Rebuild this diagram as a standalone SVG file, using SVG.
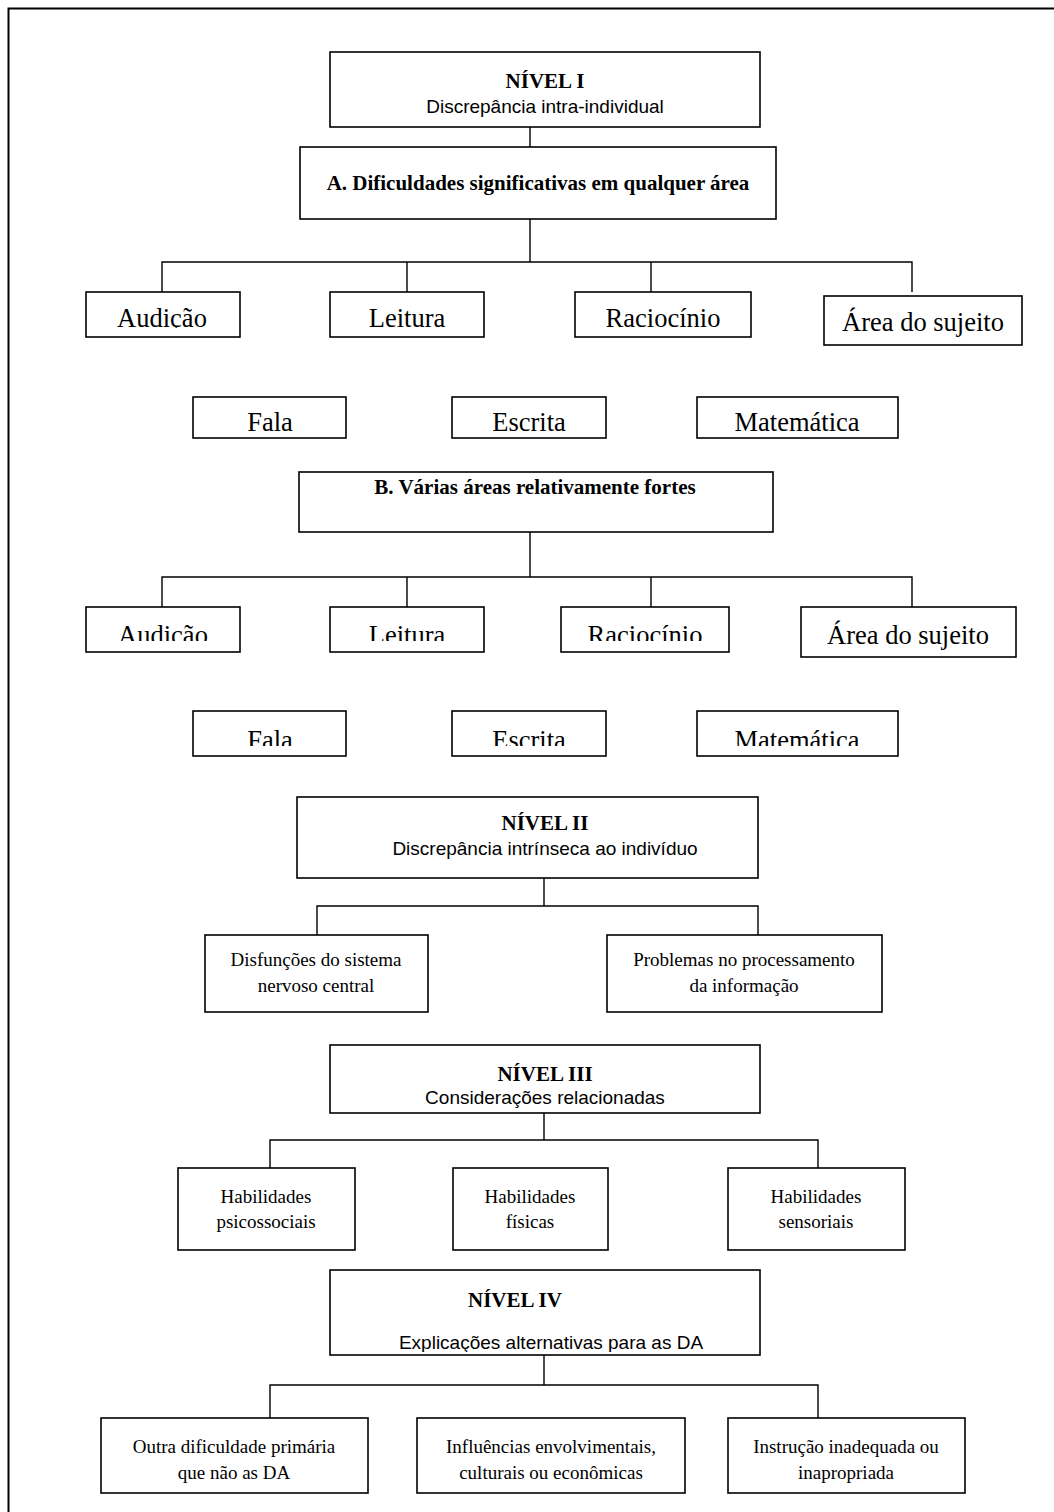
<svg xmlns="http://www.w3.org/2000/svg" width="1054" height="1512" viewBox="0 0 1054 1512">
<defs>
<style>
.b{fill:#fff;stroke:#000;stroke-width:1.6}
.c{fill:none;stroke:#000;stroke-width:1.4}
.h{font-family:"Liberation Serif",serif;font-weight:bold;font-size:21px;text-anchor:middle;fill:#000}
.s{font-family:"Liberation Sans",sans-serif;font-size:19px;text-anchor:middle;fill:#000}
.l{font-family:"Liberation Serif",serif;font-size:26.5px;text-anchor:middle;fill:#000}
.m{font-family:"Liberation Serif",serif;font-size:19px;text-anchor:middle;fill:#000}
</style>
<clipPath id="ca1"><rect x="0" y="280" width="1054" height="48"/></clipPath>
<clipPath id="cb1"><rect x="0" y="560" width="1054" height="81"/></clipPath>
<clipPath id="cb2"><rect x="0" y="700" width="1054" height="46"/></clipPath>
<clipPath id="cn4"><rect x="0" y="1260" width="1054" height="92"/></clipPath>
</defs>
<rect x="0" y="0" width="1054" height="1512" fill="#fff"/>
<rect x="8.5" y="8.5" width="1060" height="1520" fill="none" stroke="#000" stroke-width="2"/>

<g id="connectors">
<path class="c" d="M530 127V147M530 219V262M162 292V262H912V292M407 262V292M651 262V292"/>
<path class="c" d="M530 532V577M162 607V577H912V607M407 577V607M651 577V607"/>
<path class="c" d="M544 878V906M317 935V906H758V935"/>
<path class="c" d="M544 1113V1140M270 1168V1140H818V1168"/>
<path class="c" d="M544 1355V1385M270 1418V1385H818V1418"/>
</g>

<g id="nivel1"><rect class="b" x="330" y="52" width="430" height="75"/>
<text class="h" x="545" y="88">NÍVEL I</text><text class="s" x="545" y="113">Discrepância intra-individual</text></g>
<g id="nodeA"><rect class="b" x="300" y="147" width="476" height="72"/>
<text class="h" x="538" y="190" font-size="22.3">A. Dificuldades significativas em qualquer área</text></g>

<g id="a-audicao"><rect class="b" x="86" y="292" width="154" height="45"/><text class="l" x="162" y="327" clip-path="url(#ca1)">Audição</text></g>
<g id="a-leitura"><rect class="b" x="330" y="292" width="154" height="45"/><text class="l" x="407" y="327">Leitura</text></g>
<g id="a-raciocinio"><rect class="b" x="575" y="292" width="176" height="45"/><text class="l" x="663" y="327">Raciocínio</text></g>
<g id="a-area"><rect class="b" x="824" y="296" width="198" height="49"/><text class="l" x="923" y="331">Área do sujeito</text></g>
<g id="a-fala"><rect class="b" x="193" y="397" width="153" height="41"/><text class="l" x="270" y="431">Fala</text></g>
<g id="a-escrita"><rect class="b" x="452" y="397" width="154" height="41"/><text class="l" x="529" y="431">Escrita</text></g>
<g id="a-matematica"><rect class="b" x="697" y="397" width="201" height="41"/><text class="l" x="797" y="431">Matemática</text></g>

<g id="nodeB"><rect class="b" x="299" y="472" width="474" height="60"/>
<text class="h" x="535" y="494" font-size="20.6">B. Várias áreas relativamente fortes</text></g>

<g id="b-audicao"><rect class="b" x="86" y="607" width="154" height="45"/><text class="l" x="163" y="644" clip-path="url(#cb1)">Audição</text></g>
<g id="b-leitura"><rect class="b" x="330" y="607" width="154" height="45"/><text class="l" x="407" y="644" clip-path="url(#cb1)">Leitura</text></g>
<g id="b-raciocinio"><rect class="b" x="561" y="607" width="168" height="45"/><text class="l" x="645" y="644" clip-path="url(#cb1)">Raciocínio</text></g>
<g id="b-area"><rect class="b" x="801" y="607" width="215" height="50"/><text class="l" x="908" y="644">Área do sujeito</text></g>
<g id="b-fala"><rect class="b" x="193" y="711" width="153" height="45"/><text class="l" x="270" y="749" clip-path="url(#cb2)">Fala</text></g>
<g id="b-escrita"><rect class="b" x="452" y="711" width="154" height="45"/><text class="l" x="529" y="749" clip-path="url(#cb2)">Escrita</text></g>
<g id="b-matematica"><rect class="b" x="697" y="711" width="201" height="45"/><text class="l" x="797" y="749" clip-path="url(#cb2)">Matemática</text></g>

<g id="nivel2"><rect class="b" x="297" y="797" width="461" height="81"/>
<text class="h" x="545" y="830">NÍVEL II</text><text class="s" x="545" y="855">Discrepância intrínseca ao indivíduo</text></g>
<g id="n2-snc"><rect class="b" x="205" y="935" width="223" height="77"/>
<text class="m" x="316" y="966">Disfunções do  sistema</text><text class="m" x="316" y="992">nervoso central</text></g>
<g id="n2-proc"><rect class="b" x="607" y="935" width="275" height="77"/>
<text class="m" x="744" y="966">Problemas no processamento</text><text class="m" x="744" y="992">da informação</text></g>

<g id="nivel3"><rect class="b" x="330" y="1045" width="430" height="68"/>
<text class="h" x="545" y="1081" font-size="26">NÍVEL III</text><text class="s" x="545" y="1104" font-size="17.5">Considerações relacionadas</text></g>
<g id="n3-psico"><rect class="b" x="178" y="1168" width="177" height="82"/>
<text class="m" x="266" y="1203">Habilidades</text><text class="m" x="266" y="1228">psicossociais</text></g>
<g id="n3-fis"><rect class="b" x="453" y="1168" width="155" height="82"/>
<text class="m" x="530" y="1203">Habilidades</text><text class="m" x="530" y="1228">físicas</text></g>
<g id="n3-sens"><rect class="b" x="728" y="1168" width="177" height="82"/>
<text class="m" x="816" y="1203">Habilidades</text><text class="m" x="816" y="1228">sensoriais</text></g>

<g id="nivel4"><rect class="b" x="330" y="1270" width="430" height="85"/>
<text class="h" x="515" y="1307" font-size="18.5">NÍVEL IV</text><text class="s" x="551" y="1349" font-size="20.5" clip-path="url(#cn4)">Explicações alternativas para as DA</text></g>
<g id="n4-outra"><rect class="b" x="101" y="1418" width="267" height="75"/>
<text class="m" x="234" y="1453">Outra dificuldade primária</text><text class="m" x="234" y="1479">que não as  DA</text></g>
<g id="n4-infl"><rect class="b" x="417" y="1418" width="268" height="75"/>
<text class="m" x="551" y="1453">Influências envolvimentais,</text><text class="m" x="551" y="1479">culturais ou econômicas</text></g>
<g id="n4-instr"><rect class="b" x="728" y="1418" width="237" height="75"/>
<text class="m" x="846" y="1453">Instrução inadequada ou</text><text class="m" x="846" y="1479">inapropriada</text></g>
</svg>
